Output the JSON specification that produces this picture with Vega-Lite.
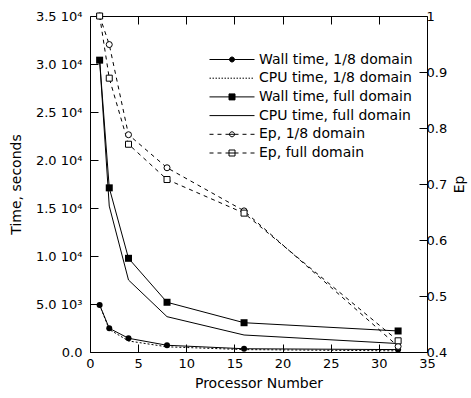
{
  "$schema": "https://vega.github.io/schema/vega-lite/v6.json",
  "width": 337,
  "height": 336,
  "autosize": "none",
  "padding": {"left": 90, "top": 16, "right": 44, "bottom": 46},
  "background": "white",
  "config": {
    "view": {"stroke": null},
    "font": "DejaVu Sans",
    "axis": {
      "domainColor": "black", "tickColor": "black", "labelColor": "black", "titleColor": "black",
      "labelFont": "DejaVu Sans", "titleFont": "DejaVu Sans",
      "labelFontSize": 13, "titleFontSize": 14, "titleFontWeight": "normal",
      "grid": false, "tickSize": -8, "domainWidth": 1, "tickWidth": 1,
      "labelFlush": false, "labelOverlap": false
    }
  },
  "data": {"values": [
    {"n": 1, "s": "Wall time, 1/8 domain", "a": "t", "v": 4900},
    {"n": 2, "s": "Wall time, 1/8 domain", "a": "t", "v": 2470},
    {"n": 4, "s": "Wall time, 1/8 domain", "a": "t", "v": 1430},
    {"n": 8, "s": "Wall time, 1/8 domain", "a": "t", "v": 700},
    {"n": 16, "s": "Wall time, 1/8 domain", "a": "t", "v": 340},
    {"n": 32, "s": "Wall time, 1/8 domain", "a": "t", "v": 250},
    {"n": 1, "s": "CPU time, 1/8 domain", "a": "t", "v": 4900},
    {"n": 2, "s": "CPU time, 1/8 domain", "a": "t", "v": 2350},
    {"n": 4, "s": "CPU time, 1/8 domain", "a": "t", "v": 1150},
    {"n": 8, "s": "CPU time, 1/8 domain", "a": "t", "v": 540},
    {"n": 16, "s": "CPU time, 1/8 domain", "a": "t", "v": 250},
    {"n": 32, "s": "CPU time, 1/8 domain", "a": "t", "v": 120},
    {"n": 1, "s": "Wall time, full domain", "a": "t", "v": 30400},
    {"n": 2, "s": "Wall time, full domain", "a": "t", "v": 17100},
    {"n": 4, "s": "Wall time, full domain", "a": "t", "v": 9760},
    {"n": 8, "s": "Wall time, full domain", "a": "t", "v": 5180},
    {"n": 16, "s": "Wall time, full domain", "a": "t", "v": 3050},
    {"n": 32, "s": "Wall time, full domain", "a": "t", "v": 2190},
    {"n": 1, "s": "CPU time, full domain", "a": "t", "v": 30400},
    {"n": 2, "s": "CPU time, full domain", "a": "t", "v": 15200},
    {"n": 4, "s": "CPU time, full domain", "a": "t", "v": 7500},
    {"n": 8, "s": "CPU time, full domain", "a": "t", "v": 3680},
    {"n": 16, "s": "CPU time, full domain", "a": "t", "v": 1770},
    {"n": 32, "s": "CPU time, full domain", "a": "t", "v": 880},
    {"n": 1, "s": "Ep, 1/8 domain", "a": "e", "v": 1.0},
    {"n": 2, "s": "Ep, 1/8 domain", "a": "e", "v": 0.949},
    {"n": 4, "s": "Ep, 1/8 domain", "a": "e", "v": 0.788},
    {"n": 8, "s": "Ep, 1/8 domain", "a": "e", "v": 0.729},
    {"n": 16, "s": "Ep, 1/8 domain", "a": "e", "v": 0.652},
    {"n": 32, "s": "Ep, 1/8 domain", "a": "e", "v": 0.41},
    {"n": 1, "s": "Ep, full domain", "a": "e", "v": 1.0},
    {"n": 2, "s": "Ep, full domain", "a": "e", "v": 0.889},
    {"n": 4, "s": "Ep, full domain", "a": "e", "v": 0.771},
    {"n": 8, "s": "Ep, full domain", "a": "e", "v": 0.708},
    {"n": 16, "s": "Ep, full domain", "a": "e", "v": 0.648},
    {"n": 32, "s": "Ep, full domain", "a": "e", "v": 0.42}
  ]},
  "layer": [
    {
      "encoding": {
        "x": {"field": "n", "type": "quantitative", "scale": {"domain": [0, 35], "nice": false},
          "axis": {"orient": "bottom", "values": [0, 5, 10, 15, 20, 25, 30, 35], "labelPadding": 13, "title": "Processor Number", "titlePadding": 6}},
        "y": {"field": "v", "type": "quantitative", "scale": {"domain": [0, 35000], "nice": false},
          "axis": {"orient": "left", "values": [0, 5000, 10000, 15000, 20000, 25000, 30000, 35000], "labelPadding": 16,
            "labelExpr": "datum.value == 0 ? '0.0' : datum.value < 10000 ? format(datum.value/1000, '.1f') + ' 10³' : format(datum.value/10000, '.1f') + ' 10⁴'",
            "title": "Time, seconds", "titlePadding": 12}}
      },
      "layer": [
        {
          "transform": [{"filter": "datum.a == 't' && datum.s != 'CPU time, 1/8 domain'"}],
          "mark": {"type": "line", "color": "black", "strokeWidth": 1},
          "encoding": {"detail": {"field": "s", "type": "nominal"}}
        },
        {
          "transform": [{"filter": "datum.s == 'CPU time, 1/8 domain'"}],
          "mark": {"type": "line", "color": "black", "strokeWidth": 1, "strokeDash": [2, 2]},
          "encoding": {}
        },
        {
          "transform": [{"filter": "datum.s == 'Wall time, 1/8 domain'"}],
          "mark": {"type": "point", "shape": "circle", "filled": true, "color": "black", "opacity": 1, "size": 36}
        },
        {
          "transform": [{"filter": "datum.s == 'Wall time, full domain'"}],
          "mark": {"type": "point", "shape": "square", "filled": true, "color": "black", "opacity": 1, "size": 49}
        },
        {
          "transform": [{"filter": "datum.n == 1"}],
          "mark": {"type": "point", "filled": true, "opacity": 0, "stroke": "black", "strokeWidth": 1},
          "encoding": {
            "shape": {"field": "s", "type": "nominal",
              "scale": {"domain": ["Wall time, 1/8 domain", "CPU time, 1/8 domain", "Wall time, full domain", "CPU time, full domain", "Ep, 1/8 domain", "Ep, full domain"],
                "range": [
                  "M-4.5,0H4.5M0.5,0A0.5,0.5,0,1,1,-0.5,0A0.5,0.5,0,1,1,0.5,0Z",
                  "M-4.5,0h0.3M-3.9,0h0.3M-3.3,0h0.3M-2.7,0h0.3M-2.1,0h0.3M-1.5,0h0.3M-0.9,0h0.3M-0.3,0h0.3M0.3,0h0.3M0.9,0h0.3M1.5,0h0.3M2.1,0h0.3M2.7,0h0.3M3.3,0h0.3M3.9,0h0.3",
                  "M-4.5,0H4.5M-0.6,-0.6H0.6V0.6H-0.6Z",
                  "M-4.5,0H4.5",
                  "M-4.5,0H-3.7M-2.9,0H-2.1M-1.3,0H1.3M0.5,0A0.5,0.5,0,1,1,-0.5,0A0.5,0.5,0,1,1,0.5,0ZM2.1,0H2.9M3.7,0H4.5",
                  "M-4.5,0H-3.7M-2.9,0H-2.1M-1.3,0H1.3M-0.6,-0.6H0.6V0.6H-0.6ZM2.1,0H2.9M3.7,0H4.5"
                ]},
              "legend": {"title": null, "orient": "none", "legendX": 135, "legendY": 36.5, "labelFont": "DejaVu Sans", "labelFontSize": 14, "labelColor": "black",
                "symbolSize": 100, "symbolStrokeWidth": 1, "symbolStrokeColor": "black", "symbolOpacity": 1, "labelOffset": 20, "rowPadding": 4.7, "symbolOffset": 0, "padding": 0,
                "encoding": {"symbols": {"stroke": {"value": "black"}, "strokeWidth": {"value": 1}, "opacity": {"value": 1}}}}},
            "fill": {"field": "s", "type": "nominal",
              "scale": {"domain": ["Wall time, 1/8 domain", "CPU time, 1/8 domain", "Wall time, full domain", "CPU time, full domain", "Ep, 1/8 domain", "Ep, full domain"],
                "range": ["black", "black", "black", "black", "white", "white"]},
              "legend": {"title": null, "orient": "none", "legendX": 135, "legendY": 36.5, "labelFont": "DejaVu Sans", "labelFontSize": 14, "labelColor": "black",
                "symbolSize": 100, "symbolStrokeWidth": 1, "symbolStrokeColor": "black", "symbolOpacity": 1, "labelOffset": 20, "rowPadding": 4.7, "symbolOffset": 0, "padding": 0,
                "encoding": {"symbols": {"stroke": {"value": "black"}, "strokeWidth": {"value": 1}, "opacity": {"value": 1}}}}}
          }
        }
      ]
    },
    {
      "encoding": {
        "x": {"field": "n", "type": "quantitative", "scale": {"domain": [0, 35], "nice": false},
          "axis": {"orient": "top", "values": [5, 10, 15, 20, 25, 30], "labels": false, "title": null}},
        "y": {"field": "v", "type": "quantitative", "scale": {"domain": [0.4, 1.0], "zero": false, "nice": false},
          "axis": {"orient": "right", "values": [0.4, 0.5, 0.6, 0.7, 0.8, 0.9, 1.0], "format": "~g", "labelPadding": 7, "title": "Ep", "titleAngle": 270, "titlePadding": 20}}
      },
      "layer": [
        {
          "transform": [{"filter": "datum.a == 'e'"}],
          "mark": {"type": "line", "color": "black", "strokeWidth": 1, "strokeDash": [4, 4]},
          "encoding": {"detail": {"field": "s", "type": "nominal"}}
        },
        {
          "transform": [{"filter": "datum.s == 'Ep, 1/8 domain'"}],
          "mark": {"type": "point", "shape": "circle", "filled": true, "fill": "white", "stroke": "black", "strokeWidth": 1, "opacity": 1, "size": 36}
        },
        {
          "transform": [{"filter": "datum.s == 'Ep, full domain'"}],
          "mark": {"type": "point", "shape": "square", "filled": true, "fill": "white", "stroke": "black", "strokeWidth": 1, "opacity": 1, "size": 36}
        }
      ]
    }
  ],
  "resolve": {"scale": {"y": "independent"}, "axis": {"x": "independent"}}
}
